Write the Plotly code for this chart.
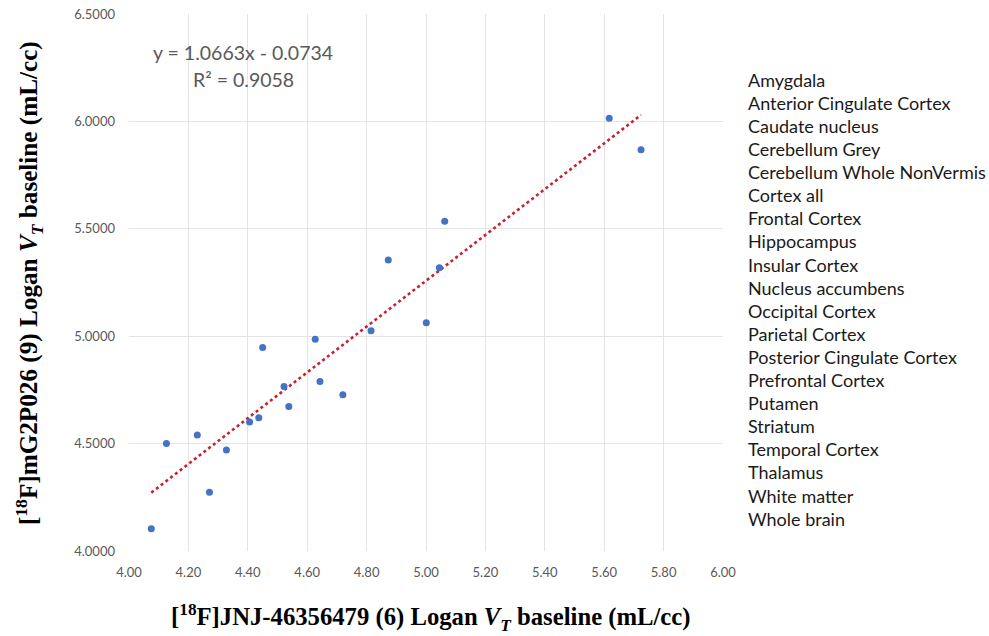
import plotly.graph_objects as go

# ---- data ----
jnj_vt = [4.075, 4.126, 4.230, 4.271, 4.328, 4.406, 4.437, 4.450, 4.522, 4.538,
          4.627, 4.643, 4.720, 4.815, 4.873, 5.001, 5.045, 5.063, 5.617, 5.724]
mg2_vt = [4.104, 4.500, 4.540, 4.274, 4.470, 4.600, 4.620, 4.947, 4.766, 4.673,
          4.986, 4.789, 4.727, 5.025, 5.355, 5.063, 5.319, 5.535, 6.015, 5.868]
regions = ["Amygdala", "Anterior Cingulate Cortex", "Caudate nucleus", "Cerebellum Grey",
           "Cerebellum Whole NonVermis", "Cortex all", "Frontal Cortex", "Hippocampus",
           "Insular Cortex", "Nucleus accumbens", "Occipital Cortex", "Parietal Cortex",
           "Posterior Cingulate Cortex", "Prefrontal Cortex", "Putamen", "Striatum",
           "Temporal Cortex", "Thalamus", "White matter", "Whole brain"]
slope = 1.0663
intercept = -0.0734
r_squared = 0.9058
x_ticks = [4.0, 4.2, 4.4, 4.6, 4.8, 5.0, 5.2, 5.4, 5.6, 5.8, 6.0]
y_ticks = [4.0, 4.5, 5.0, 5.5, 6.0, 6.5]

# ---- layout geometry (pixels) ----
W, H = 989, 636
L, R, T, B = 128.6, 722.6, 14.3, 551.3
pw, ph = R - L, B - T

def px(xp):
    return (xp - L) / pw

def py(yp):
    return (B - yp) / ph

x_fit = [min(jnj_vt), max(jnj_vt)]
y_fit = [slope * v + intercept for v in x_fit]

fig = go.Figure()
fig.add_trace(go.Scatter(x=x_fit, y=y_fit, mode="lines",
                         line=dict(color="#C8202E", width=2.6, dash="dot"),
                         showlegend=False, hoverinfo="skip"))
fig.add_trace(go.Scatter(x=jnj_vt, y=mg2_vt, mode="markers",
                         marker=dict(color="#4472C4", size=7),
                         showlegend=False))

tickfont = dict(family="Lato, Open Sans, sans-serif", size=13, color="#595959")
fig.update_xaxes(range=[4.0, 6.0], tickvals=x_ticks, tickformat=".2f",
                 showgrid=True, gridcolor="#e4e4e4", gridwidth=1,
                 zeroline=False, showline=False, tickfont=tickfont,
                 ticks="", ticklabelstandoff=12, automargin=False)
fig.update_yaxes(range=[4.0, 6.5], tickvals=y_ticks, tickformat=".4f",
                 showgrid=True, gridcolor="#e4e4e4", gridwidth=1,
                 zeroline=False, showline=False, tickfont=tickfont,
                 ticks="", ticklabelstandoff=13, automargin=False)

annotations = []
eqfont = dict(family="Lato, Open Sans, sans-serif", size=19.5, color="#595959")
annotations.append(dict(x=px(243), y=py(53), xref="paper", yref="paper",
                        text=f"y = {slope:.4f}x - {abs(intercept):.4f}",
                        showarrow=False, font=eqfont, xanchor="center", yanchor="middle"))
annotations.append(dict(x=px(243), y=py(80), xref="paper", yref="paper",
                        text=f"R² = {r_squared:.4f}",
                        showarrow=False, font=eqfont, xanchor="center", yanchor="middle"))

legfont = dict(family="Lato, Open Sans, sans-serif", size=18, color="#1a1a1a")
for i, name in enumerate(regions):
    annotations.append(dict(x=px(746), y=py(80 + 23.1 * i), xref="paper", yref="paper",
                            text=name, showarrow=False, font=legfont,
                            xanchor="left", yanchor="middle"))

xtitlefont = dict(family="Liberation Serif, Times New Roman, serif", size=24.7, color="#000000")
ytitlefont = dict(family="Liberation Serif, Times New Roman, serif", size=25.2, color="#000000")
annotations.append(dict(x=px(431), y=py(618), xref="paper", yref="paper",
                        text="<b>[<sup>18</sup>F]JNJ-46356479 (6) Logan <i>V<sub>T</sub></i> baseline (mL/cc)</b>",
                        showarrow=False, font=xtitlefont, xanchor="center", yanchor="middle"))
annotations.append(dict(x=px(28), y=py(283), xref="paper", yref="paper",
                        text="<b>[<sup>18</sup>F]mG2P026 (9) Logan <i>V<sub>T</sub></i> baseline (mL/cc)</b>",
                        showarrow=False, font=ytitlefont, textangle=-90,
                        xanchor="center", yanchor="middle"))

fig.update_layout(width=W, height=H,
                  margin=dict(l=L, r=W - R, t=T, b=H - B),
                  paper_bgcolor="white", plot_bgcolor="white",
                  annotations=annotations, showlegend=False)

fig.write_html("out.html", config={"displayModeBar": False},
               post_script="document.body.style.margin='0';document.body.style.overflow='hidden';")
